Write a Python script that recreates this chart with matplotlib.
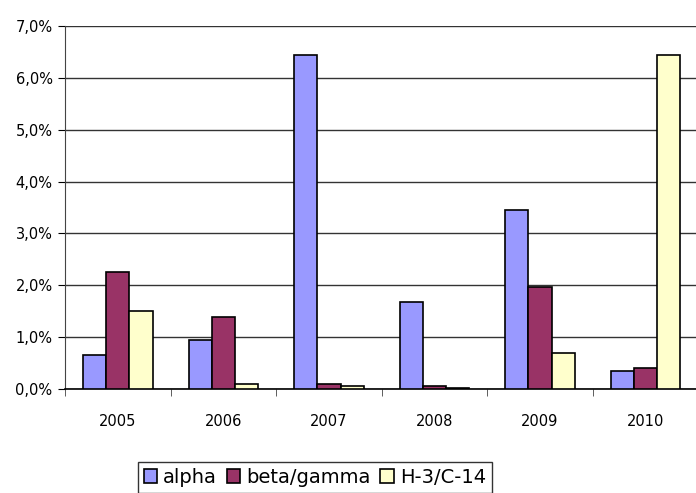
import matplotlib.pyplot as plt
import numpy as np

# Datos
years = ['2005', '2006', '2007', '2008', '2009', '2010']
alpha = [0.66, 0.94, 6.44, 1.68, 3.45, 0.35]
beta_gamma = [2.25, 1.39, 0.10, 0.05, 1.97, 0.40]
h3_c14 = [1.50, 0.10, 0.05, 0.02, 0.69, 6.44]

series = [('alpha', alpha, '#9999FF'),
          ('beta/gamma', beta_gamma, '#993366'),
          ('H-3/C-14', h3_c14, '#FFFFCC')]

fig = plt.figure(figsize=(6.96, 4.93), dpi=100)
ax = fig.add_axes([0.0934, 0.211, 0.91, 0.736])

x = np.arange(len(years))
w = 0.22
for i, (name, vals, col) in enumerate(series):
    ax.bar(x + (i - 1) * w, vals, w, color=col, edgecolor='black',
           linewidth=1.2, label=name, zorder=3)

ax.set_xlim(-0.5, len(years) - 0.5)
ax.set_ylim(0, 7)
ax.set_yticks(np.arange(0, 8, 1))
ax.set_yticklabels(['%d,0%%' % v for v in range(8)])
ax.set_xticks(x)
ax.set_xticklabels(years)
ax.set_xticks(np.arange(-0.5, len(years), 1), minor=True)
ax.tick_params(axis='x', which='major', length=0, pad=18, labelsize=10.5)
ax.tick_params(axis='x', which='minor', length=5, direction='out', color='#444444')
ax.tick_params(axis='y', length=5, direction='out', labelsize=10.5, pad=4)

ax.grid(axis='y', color='#333333', linewidth=1, zorder=0)
for s in ['top', 'right']:
    ax.spines[s].set_visible(False)
ax.spines['left'].set_color('#444444')
ax.spines['bottom'].set_color('black')
ax.spines['bottom'].set_linewidth(1.2)

leg = fig.legend(loc='upper left', bbox_to_anchor=(0.198, 0.063), ncol=3,
                 fontsize=14, frameon=True, fancybox=False, edgecolor='black',
                 handlelength=0.7, handleheight=0.7, handletextpad=0.3,
                 columnspacing=0.5, borderpad=0.3, borderaxespad=0)
leg.get_frame().set_linewidth(1)

plt.savefig('out.png', dpi=100)
